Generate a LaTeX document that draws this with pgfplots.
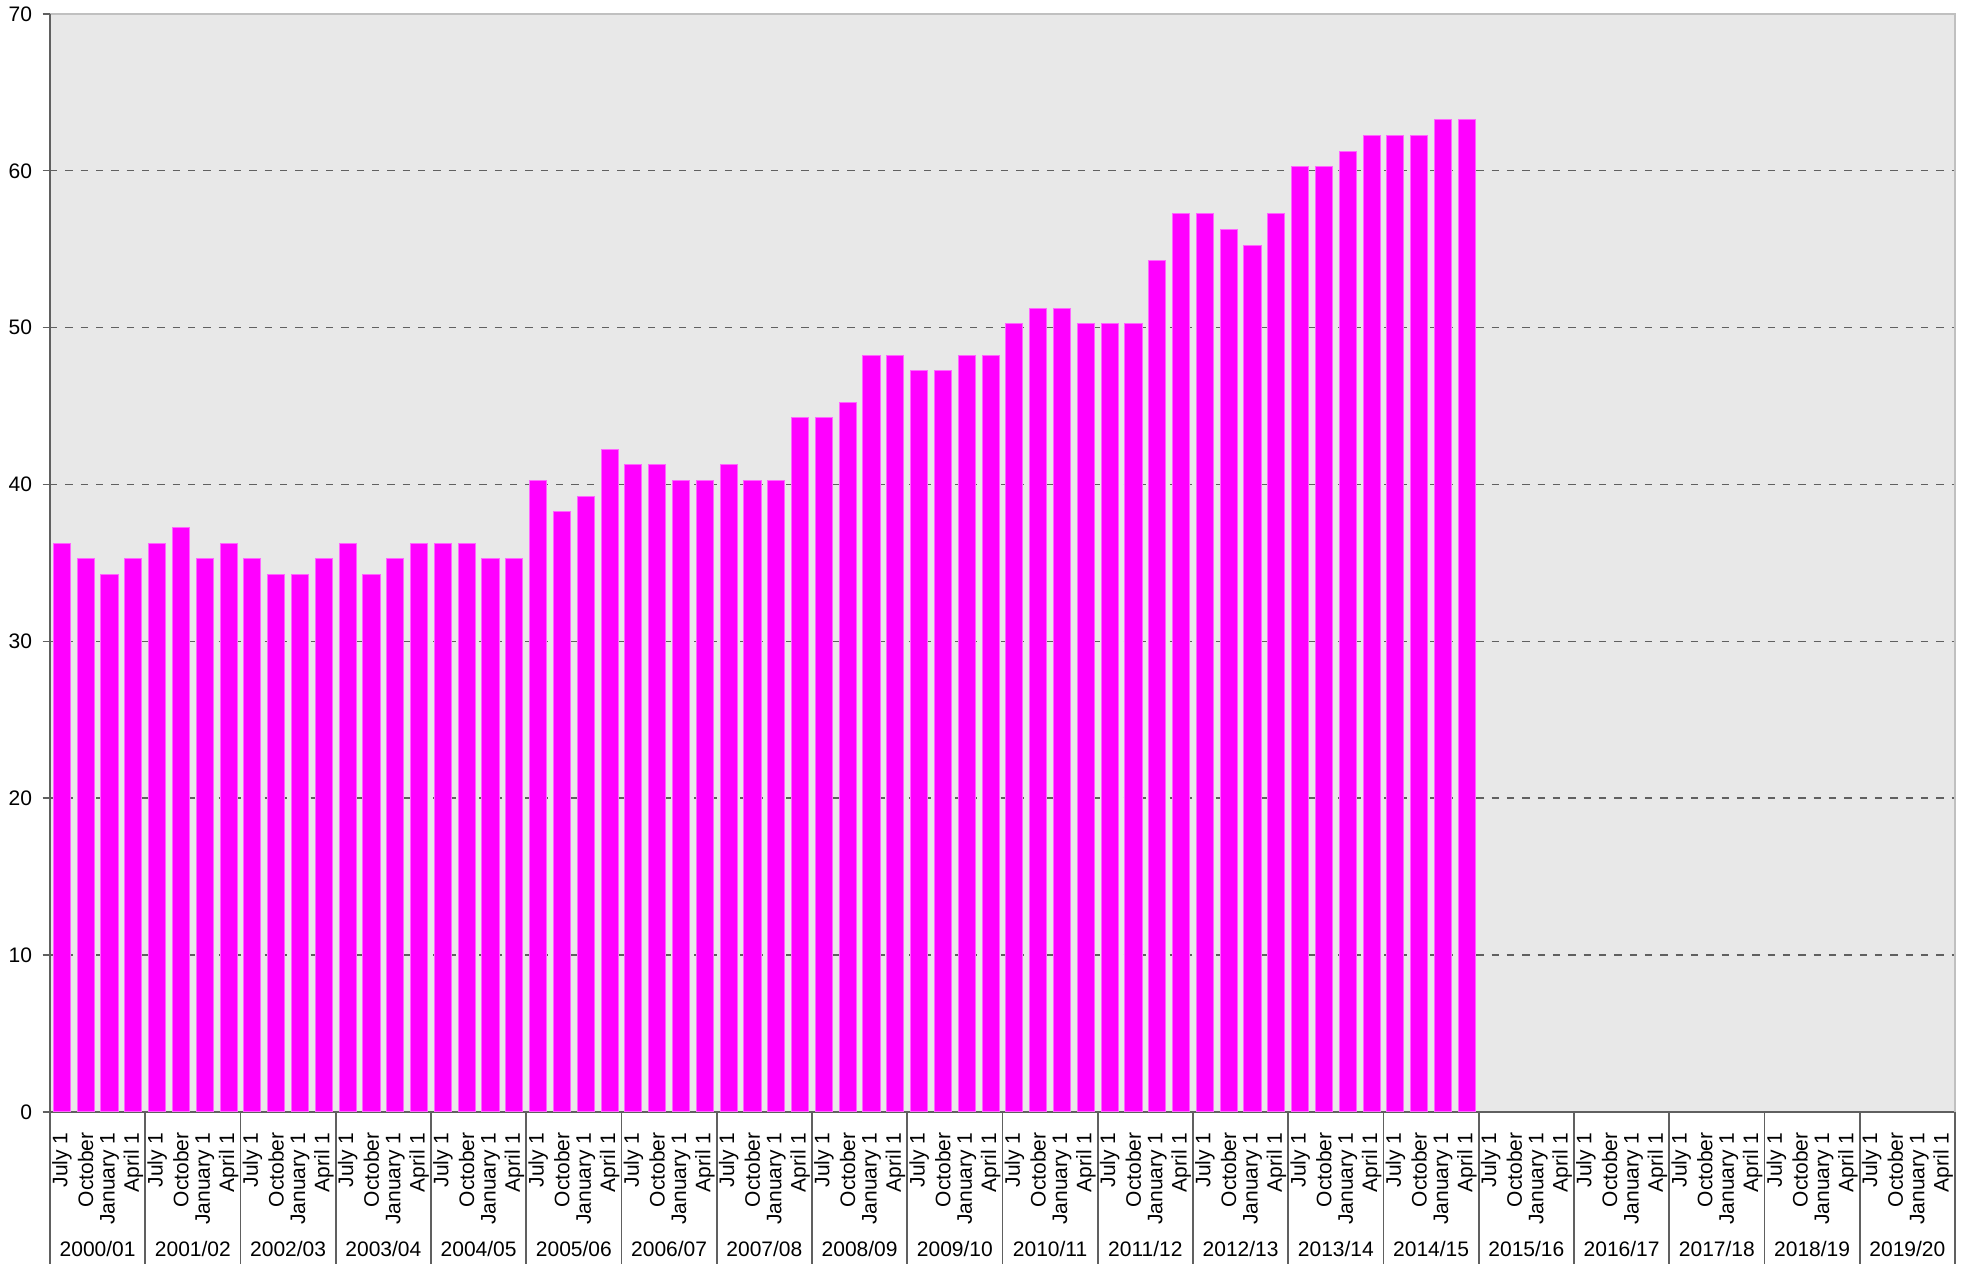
\documentclass[border=0pt]{standalone}
\usepackage{fontspec}
\setmainfont{Liberation Sans}
\usepackage{pgfplots}
\pgfplotsset{compat=1.18}
\definecolor{bgc}{HTML}{E8E8E8}
\definecolor{barc}{HTML}{FF00FF}
\definecolor{axc}{HTML}{606060}
\definecolor{bordc}{HTML}{C0C0C0}
\newcommand\tlf{\fontsize{6.3}{7}\selectfont}
\begin{document}
\begin{tikzpicture}
\useasboundingbox (-15pt,-45.6pt) rectangle (575pt,333.5pt);
\begin{axis}[
  at={(0,0)}, anchor=south west,
  scale only axis,
  width=571.4pt, height=329.3pt,
  xmin=-0.5, xmax=79.5,
  ymin=0, ymax=70,
  ytick={0,10,...,70},
  axis background/.style={fill=bgc},
  axis x line*=bottom, axis y line*=left,
  axis line style={axc, line width=0.5pt},
  ymajorgrids,
  major grid style={axc, dash pattern=on 2.2pt off 2.4pt, line width=0.4pt},
  y tick style={axc, line width=0.4pt},
  tick align=outside,
  major tick length=2.2pt,
  /pgf/number format/assume math mode=true,
  yticklabel style={font=\tlf, inner sep=0pt, xshift=-3pt},
  xtick=\empty,
  extra x ticks={-0.5,3.5,...,79.5},
  extra x tick labels={},
  extra x tick style={grid=none, tick align=outside, major tick length=45.6pt,
     x tick style={draw=axc, line width=0.5pt}},
  clip=false,
]
\addplot[ybar, bar width=0.72, fill=barc, draw=barc!60!white, line width=0.3pt, bar shift=0pt]
coordinates {
(0,36.25)(1,35.25)(2,34.25)(3,35.25)
(4,36.25)(5,37.25)(6,35.25)(7,36.25)
(8,35.25)(9,34.25)(10,34.25)(11,35.25)
(12,36.25)(13,34.25)(14,35.25)(15,36.25)
(16,36.25)(17,36.25)(18,35.25)(19,35.25)
(20,40.25)(21,38.25)(22,39.25)(23,42.25)
(24,41.25)(25,41.25)(26,40.25)(27,40.25)
(28,41.25)(29,40.25)(30,40.25)(31,44.25)
(32,44.25)(33,45.25)(34,48.25)(35,48.25)
(36,47.25)(37,47.25)(38,48.25)(39,48.25)
(40,50.25)(41,51.25)(42,51.25)(43,50.25)
(44,50.25)(45,50.25)(46,54.25)(47,57.25)
(48,57.25)(49,56.25)(50,55.25)(51,57.25)
(52,60.25)(53,60.25)(54,61.25)(55,62.25)
(56,62.25)(57,62.25)(58,63.25)(59,63.25)
};
\draw[bordc, line width=0.8pt] (rel axis cs:0,1) -- (rel axis cs:1,1) -- (rel axis cs:1,0);
\draw[axc, line width=0.5pt] (rel axis cs:0,0) -- (rel axis cs:0,1);
\tikzset{ql/.style={font=\tlf, anchor=east, inner sep=0pt, rotate=90}}
\pgfplotsinvokeforeach{0,4,...,76}{\node[ql] at ([yshift=-6pt]axis cs:#1,0) {July 1};}
\pgfplotsinvokeforeach{1,5,...,77}{\node[ql] at ([yshift=-6pt]axis cs:#1,0) {October};}
\pgfplotsinvokeforeach{2,6,...,78}{\node[ql] at ([yshift=-6pt]axis cs:#1,0) {January 1};}
\pgfplotsinvokeforeach{3,7,...,79}{\node[ql] at ([yshift=-6pt]axis cs:#1,0) {April 1};}
\tikzset{yr/.style={font=\tlf, anchor=center, yshift=-41.1pt}}
\node[yr] at (axis cs:1.5,0) {2000/01};
\node[yr] at (axis cs:5.5,0) {2001/02};
\node[yr] at (axis cs:9.5,0) {2002/03};
\node[yr] at (axis cs:13.5,0) {2003/04};
\node[yr] at (axis cs:17.5,0) {2004/05};
\node[yr] at (axis cs:21.5,0) {2005/06};
\node[yr] at (axis cs:25.5,0) {2006/07};
\node[yr] at (axis cs:29.5,0) {2007/08};
\node[yr] at (axis cs:33.5,0) {2008/09};
\node[yr] at (axis cs:37.5,0) {2009/10};
\node[yr] at (axis cs:41.5,0) {2010/11};
\node[yr] at (axis cs:45.5,0) {2011/12};
\node[yr] at (axis cs:49.5,0) {2012/13};
\node[yr] at (axis cs:53.5,0) {2013/14};
\node[yr] at (axis cs:57.5,0) {2014/15};
\node[yr] at (axis cs:61.5,0) {2015/16};
\node[yr] at (axis cs:65.5,0) {2016/17};
\node[yr] at (axis cs:69.5,0) {2017/18};
\node[yr] at (axis cs:73.5,0) {2018/19};
\node[yr] at (axis cs:77.5,0) {2019/20};
\end{axis}
\end{tikzpicture}
\end{document}
